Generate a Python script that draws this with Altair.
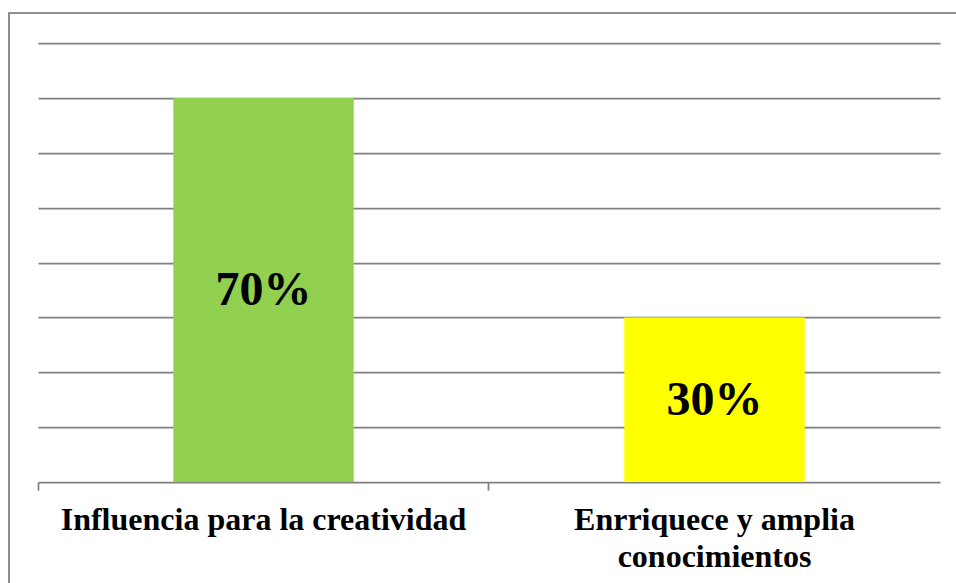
import altair as alt
import pandas as pd

categories = ["Influencia para la creatividad", "Enrriquece y amplia|conocimientos"]
values = [0.70, 0.30]
value_labels = ["70%", "30%"]
bar_colors = ["#92D050", "#FFFF00"]

df = pd.DataFrame({"cat": categories, "val": values, "lab": value_labels, "color": bar_colors})

W, H = 902, 439

x = alt.X(
    "cat:N",
    sort=categories,
    scale=alt.Scale(paddingInner=0.6, paddingOuter=0.3),
    axis=alt.Axis(
        title=None,
        labelAngle=0,
        labelFont="Liberation Serif",
        labelFontWeight="bold",
        labelFontSize=32,
        labelColor="black",
        labelLimit=0,
        labelPadding=14,
        labelLineHeight=37,
        labelBaseline="top",
        labelExpr="split(datum.value, '|')",
        domainColor="#808080",
        domainWidth=1.75,
        tickColor="#808080",
        tickWidth=1.75,
        tickSize=8,
        bandPosition=-0.75,
        grid=False,
    ),
)

y = alt.Y(
    "val:Q",
    scale=alt.Scale(domain=[0, 0.8], nice=False),
    axis=alt.Axis(
        title=None,
        labels=False,
        ticks=False,
        domain=False,
        values=[0.1, 0.2, 0.3, 0.4, 0.5, 0.6, 0.7, 0.8],
        grid=True,
        gridColor="#808080",
        gridWidth=1.75,
    ),
)

border = alt.Chart(df).mark_rect(
    fill=None, stroke="#8c8c8c", strokeWidth=1.75, clip=False
).encode(
    x=alt.value(-29), x2=alt.value(W + 60),
    y=alt.value(-30), y2=alt.value(H + 150),
)

bars = alt.Chart(df).mark_bar().encode(
    x=x,
    y=y,
    color=alt.Color("color:N", scale=None),
)

text = alt.Chart(df).transform_calculate(mid="datum.val / 2").mark_text(
    font="Liberation Serif", fontWeight="bold", fontSize=48, color="black",
    baseline="middle", dy=1,
).encode(
    x=alt.X("cat:N", sort=categories),
    y=alt.Y("mid:Q"),
    text="lab:N",
)

chart = alt.layer(border, bars, text).properties(
    width=W,
    height=H,
    autosize=alt.AutoSizeParams(type="none"),
    padding={"left": 38, "top": 43, "right": 16, "bottom": 101},
    background="white",
).configure_view(stroke=None)

chart.save("out.html", embed_options={"renderer": "svg", "actions": False})
